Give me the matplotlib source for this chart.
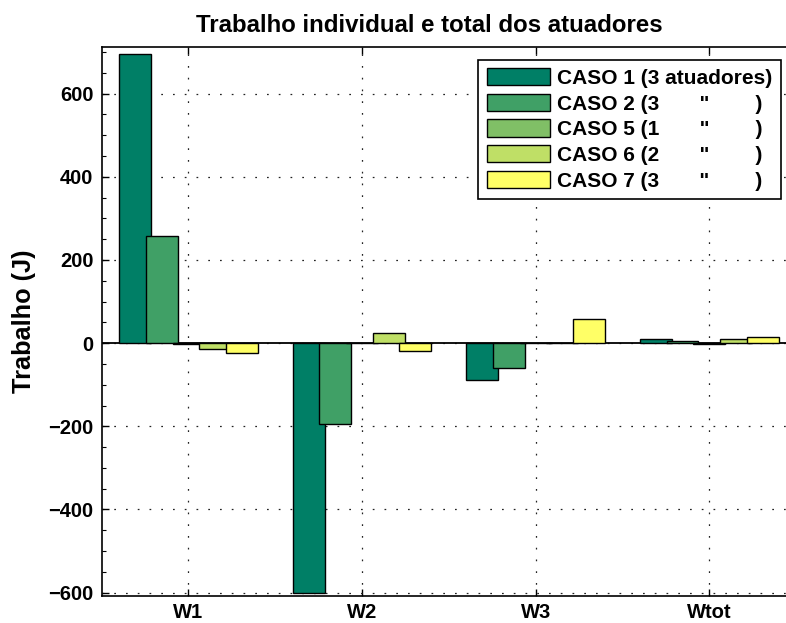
import matplotlib
matplotlib.use("Agg")
import matplotlib.pyplot as plt
from matplotlib.ticker import MultipleLocator

plt.rcParams['font.family'] = ['Liberation Sans', 'DejaVu Sans']
plt.rcParams['font.weight'] = 'bold'

categories = ['W1', 'W2', 'W3', 'Wtot']
series_labels = [
    'CASO 1 (3 atuadores)',
    'CASO 2 (3       "        )',
    'CASO 5 (1       "        )',
    'CASO 6 (2       "        )',
    'CASO 7 (3       "        )',
]
caso1 = [696, -600, -88, 9]
caso2 = [258, -194, -59, 6]
caso5 = [-1, 0, 0, -1]
caso6 = [-14, 24, 0, 10]
caso7 = [-24, -20, 58, 14]
series_values = [caso1, caso2, caso5, caso6, caso7]

# "summer" colormap sampled at 5 levels
colors = ['#007F66', '#40A066', '#80BF66', '#BFDF66', '#FFFF66']

W, H = 786, 623
fig = plt.figure(figsize=(W / 100, H / 100), dpi=100)
ax_left, ax_right, ax_top, ax_bottom = 101.7, 796.0, 47.0, 596.0
ax = fig.add_axes([ax_left / W, 1 - ax_bottom / H,
                   (ax_right - ax_left) / W, (ax_bottom - ax_top) / H])

x = list(range(1, len(categories) + 1))
step = 0.1538
width = 0.184
n = len(series_values)
for i, (vals, col, lab) in enumerate(zip(series_values, colors, series_labels)):
    off = (i - (n - 1) / 2) * step
    ax.bar([xi + off for xi in x], vals, width=width, color=col,
           edgecolor='black', linewidth=1.0, label=lab, zorder=2 + i * 0.01)

ax.axhline(0, color='black', linewidth=1.3, zorder=1.5)

ax.set_xlim(0.5, 4.5)
ax.set_ylim(-608, 712)
ax.set_xticks(x)
ax.set_xticklabels(categories)
ax.yaxis.set_major_locator(MultipleLocator(200))
ax.yaxis.set_minor_locator(MultipleLocator(50))

ax.set_axisbelow(True)
ax.grid(True, which='major', color='#222222', linewidth=0.9,
        linestyle=(0, (1.4, 8.0)))

for s in ax.spines.values():
    s.set_linewidth(1.2)
    s.set_color('black')

ax.tick_params(axis='both', which='both', direction='in', top=True, right=True,
               labelsize=14.5)
ax.tick_params(axis='both', which='major', length=5, width=1.0)
ax.tick_params(axis='y', which='minor', length=3, width=0.8)
ax.tick_params(axis='x', which='major', pad=5)
ax.tick_params(axis='y', which='major', pad=6)
for lab in ax.get_xticklabels() + ax.get_yticklabels():
    lab.set_fontweight('bold')

ax.set_ylabel('Trabalho (J)', fontsize=18.3, fontweight='bold', va='center')
ax.yaxis.set_label_coords((24.5 - ax_left) / (ax_right - ax_left), 0.5)

fig.text(429 / W, 1 - 25 / H, 'Trabalho individual e total dos atuadores',
         ha='center', va='center', fontsize=17.3, fontweight='bold')

leg = ax.legend(loc='upper right',
                bbox_to_anchor=((781 - ax_left) / (ax_right - ax_left),
                                1 - (59.7 - ax_top) / (ax_bottom - ax_top)),
                borderaxespad=0, prop={'weight': 'bold', 'size': 15},
                handlelength=3.05, handleheight=0.9, handletextpad=0.35,
                labelspacing=0.28, borderpad=0.4, fancybox=False,
                framealpha=1, edgecolor='black')
leg.get_frame().set_linewidth(1.2)

fig.savefig('out.png', dpi=100)
